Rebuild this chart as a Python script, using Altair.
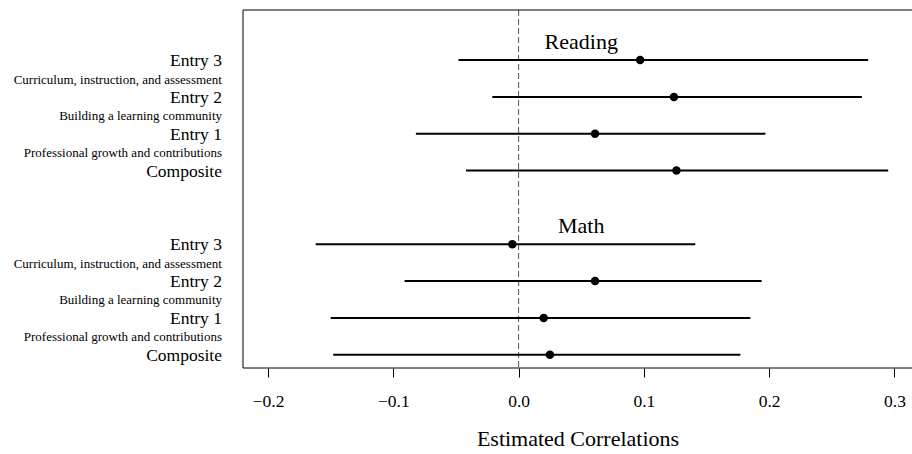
import altair as alt
import pandas as pd

# ---- data ----
groups = ["Reading"] * 4 + ["Math"] * 4
entries = ["Entry 3", "Entry 2", "Entry 1", "Composite"] * 2
ypos = [9, 8, 7, 6, 4, 3, 2, 1]
est = [0.097, 0.124, 0.061, 0.126, -0.005, 0.061, 0.020, 0.025]
lo = [-0.048, -0.021, -0.082, -0.042, -0.162, -0.091, -0.150, -0.148]
hi = [0.279, 0.274, 0.197, 0.295, 0.141, 0.194, 0.185, 0.177]

sub_labels = ["Curriculum, instruction, and assessment",
              "Building a learning community",
              "Professional growth and contributions"] * 2
sub_ypos = [8.5, 7.5, 6.5, 3.5, 2.5, 1.5]

group_names = ["Reading", "Math"]
group_x = [0.05, 0.05]
group_y = [9.5, 4.5]

x_ticks = [-0.2, -0.1, 0.0, 0.1, 0.2, 0.3]

df = pd.DataFrame({"group": groups, "entry": entries, "y": ypos,
                   "est": est, "lo": lo, "hi": hi})
sub_df = pd.DataFrame({"label": sub_labels, "y": sub_ypos})
grp_df = pd.DataFrame({"name": group_names, "gx": group_x, "gy": group_y})

FONT = "Liberation Serif"
W, H = 669, 358

x_scale = alt.Scale(domain=[-0.22, 0.314], nice=False, zero=False)
y_scale = alt.Scale(domain=[0.64, 10.36], nice=False, zero=False)
x_axis = alt.Axis(values=x_ticks, format=".1f", title="Estimated Correlations",
                  grid=False, domain=False, ticks=True, tickSize=9,
                  tickColor="black", tickWidth=1,
                  labelFont=FONT, labelFontSize=17.5, labelColor="black",
                  labelPadding=15, labelFlush=False,
                  titleFont=FONT, titleFontSize=22, titleFontWeight="normal",
                  titleColor="black", titlePadding=19)

base = alt.Chart(df)

bars = base.mark_rule(color="black", strokeWidth=2).encode(
    x=alt.X("lo:Q", scale=x_scale, axis=x_axis),
    x2="hi:Q",
    y=alt.Y("y:Q", scale=y_scale, axis=None),
)

points = base.mark_circle(color="black", size=72, opacity=1).encode(
    x=alt.X("est:Q", scale=x_scale, axis=x_axis),
    y=alt.Y("y:Q", scale=y_scale, axis=None),
)

zero_line = alt.Chart(alt.Data(values=[{}])).mark_rule(
    color="#555555", strokeWidth=1, strokeDash=[6, 3]
).encode(x=alt.datum(0, scale=x_scale, axis=x_axis))

entry_text = base.mark_text(align="right", baseline="middle", font=FONT,
                            fontSize=17.5, color="black", dy=1).encode(
    x=alt.value(-21),
    y=alt.Y("y:Q", scale=y_scale, axis=None),
    text="entry:N",
)

sub_text = alt.Chart(sub_df).mark_text(align="right", baseline="middle", font=FONT,
                                       fontSize=13, color="black", dy=1).encode(
    x=alt.value(-21),
    y=alt.Y("y:Q", scale=y_scale, axis=None),
    text="label:N",
)

grp_text = alt.Chart(grp_df).mark_text(align="center", baseline="middle", font=FONT,
                                       fontSize=22, color="black").encode(
    x=alt.X("gx:Q", scale=x_scale, axis=x_axis),
    y=alt.Y("gy:Q", scale=y_scale, axis=None),
    text="name:N",
)

one = alt.Data(values=[{}])
border_top = alt.Chart(one).mark_rule(color="black", strokeWidth=1).encode(
    x=alt.value(0), x2=alt.value(W + 5), y=alt.value(0))
border_left = alt.Chart(one).mark_rule(color="black", strokeWidth=1).encode(
    x=alt.value(0), y=alt.value(0), y2=alt.value(H))
border_bottom = alt.Chart(one).mark_rule(color="black", strokeWidth=1).encode(
    x=alt.value(0), x2=alt.value(W + 5), y=alt.value(H))

chart = alt.layer(
    zero_line, bars, points, entry_text, sub_text, grp_text,
    border_top, border_left, border_bottom
).properties(
    width=W, height=H,
    autosize=alt.AutoSizeParams(type="none"),
    padding={"left": 243, "top": 10, "right": 0, "bottom": 86},
    background="white",
).configure_view(stroke=None).configure_axis(
    labelFont=FONT, titleFont=FONT, labelFontSize=17.5, titleFontSize=22,
    titleFontWeight="normal", labelColor="black", titleColor="black"
)

chart.save("out.html", embed_options={"renderer": "svg", "actions": False})
